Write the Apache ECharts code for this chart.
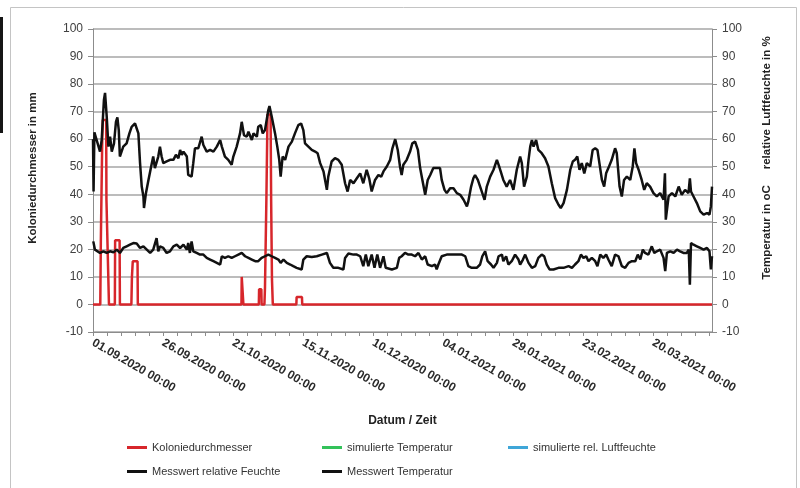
<!DOCTYPE html>
<html>
<head>
<meta charset="utf-8">
<script src="https://cdn.jsdelivr.net/npm/echarts@6/dist/echarts.min.js"></script>
<style>
  html, body { margin: 0; padding: 0; background: #fff; }
  #chart { width: 800px; height: 488px; }
</style>
</head>
<body>
<div id="chart"></div>
<script>
// x values are days since 01.09.2020 00:00
const dayMax = 221;
const labelStep = 25;

// Koloniedurchmesser in mm (left axis)
const colony = [
  [0, 0], [2.6, 0], [2.8, 23], [3.3, 60], [3.5, 67], [4.7, 67], [4.8, 38], [5.5, 38], [5.7, 0],
  [7.8, 0], [7.9, 23.3], [9.5, 23.3], [9.6, 0],
  [13.7, 0], [13.9, 10], [14.2, 15.7], [15.9, 15.7], [16.0, 0],
  [53.0, 0], [53.1, 10], [53.6, 10], [53.7, 0],
  [59.2, 0], [59.3, 5.5], [60.1, 5.5], [60.2, 0],
  [61.2, 0], [61.4, 6], [61.9, 38], [62.3, 69], [63.4, 69], [63.6, 38], [63.9, 9], [64.2, 0],
  [72.6, 0], [72.7, 2.7], [74.6, 2.7], [74.7, 0],
  [221, 0]
];

// Messwert relative Feuchte in % (right axis)
const humidity = [
  [0, 60], [0.2, 41], [0.5, 62.5], [1.3, 59.7], [2.5, 55.5], [3.1, 59.7], [3.9, 74.2], [4.3, 76.8],
  [4.9, 68.2], [5.5, 57.3], [6.1, 60.9], [6.7, 55.5], [7.5, 58.5], [8.2, 66.3], [8.7, 67.9], [9.2, 63.3],
  [9.6, 53.7], [10.2, 53.1], [10.8, 57.3], [12.0, 58.5], [13.0, 62.1], [13.8, 64.5], [15.0, 65.7],
  [15.6, 65.7], [16.2, 62.1], [16.8, 51.3], [17.4, 42.8], [18.0, 39.2], [18.2, 35.0], [18.9, 40.4],
  [19.8, 45.2], [21.0, 51.3], [21.5, 53.7], [22.1, 49.5], [23.3, 53.7], [23.9, 57.3], [24.5, 53.7],
  [25.1, 51.3], [26.3, 51.9], [27.5, 52.5], [28.7, 52.5], [29.6, 54.3], [30.5, 53.1], [31.1, 56.1],
  [31.7, 54.3], [32.3, 55.5], [33.5, 53.7], [34.0, 47.0], [34.6, 46.4], [35.2, 46.4], [35.8, 51.3],
  [36.4, 56.7], [37.6, 56.7], [38.8, 60.9], [39.4, 57.9], [40.6, 55.5], [41.8, 56.1], [43.0, 55.5],
  [44.2, 57.3], [45.4, 59.7], [46.0, 57.3], [47.1, 53.7], [48.3, 52.5], [49.5, 50.7], [50.1, 53.7],
  [51.3, 57.3], [52.5, 62.1], [53.1, 66.3], [53.9, 61.5], [54.9, 60.9], [55.5, 62.7], [56.7, 59.7],
  [57.3, 62.1], [58.5, 60.9], [59.0, 64.5], [59.9, 65.1], [60.6, 62.1], [61.4, 63.3], [62.6, 70.6],
  [63.0, 72.0], [63.8, 68.2], [65.0, 62.1], [65.8, 57.3], [66.5, 52.5], [67.0, 46.4], [67.7, 53.7],
  [68.6, 52.5], [69.8, 57.3], [71.0, 59.1], [72.1, 62.1], [73.3, 65.1], [74.3, 65.7], [75.1, 63.3],
  [75.7, 58.5], [76.9, 57.3], [78.1, 56.1], [79.3, 55.5], [80.2, 54.9], [81.1, 51.3], [82.3, 48.3],
  [83.5, 41.6], [84.0, 46.4], [85.2, 51.9], [86.4, 53.1], [87.6, 52.5], [88.8, 50.7], [90.0, 44.0],
  [90.9, 41.0], [91.8, 45.2], [93.0, 44.0], [94.2, 45.8], [95.4, 47.6], [96.5, 44.0], [97.7, 48.9],
  [98.6, 45.8], [99.5, 41.0], [100.7, 45.2], [101.9, 47.0], [102.9, 46.4], [103.7, 48.3], [104.9, 50.1],
  [106.1, 52.5], [106.9, 56.7], [107.9, 60.0], [108.8, 56.1], [109.6, 50.1], [110.2, 47.0], [110.8, 50.7],
  [112.0, 52.5], [113.2, 55.5], [114.0, 58.5], [115.0, 59.1], [116.0, 56.1], [116.8, 49.5], [117.6, 45.2],
  [118.6, 39.8], [119.5, 45.2], [120.4, 47.0], [121.5, 49.5], [122.7, 49.5], [123.9, 49.5], [124.5, 45.2],
  [125.5, 41.6], [126.3, 40.4], [127.5, 42.2], [128.7, 42.2], [129.9, 40.4], [131.1, 39.8], [132.3, 38.0],
  [133.5, 35.6], [134.0, 37.4], [135.0, 42.8], [135.8, 45.8], [136.4, 47.0], [137.4, 45.2], [138.6, 41.6],
  [139.8, 38.0], [140.6, 42.8], [141.8, 46.4], [143.0, 48.9], [144.2, 52.5], [145.0, 50.1], [146.5, 45.2],
  [147.7, 42.8], [148.9, 45.2], [150.1, 41.6], [151.3, 48.9], [152.5, 53.7], [153.1, 51.3], [153.9, 42.8],
  [154.9, 46.4], [155.5, 52.5], [156.1, 57.3], [156.7, 59.7], [157.3, 57.3], [158.2, 59.7], [159.0, 56.1],
  [160.2, 54.9], [161.4, 53.1], [162.6, 50.1], [163.8, 44.0], [165.0, 38.6], [166.2, 36.2], [167.0, 35.0],
  [168.0, 36.8], [169.2, 41.6], [170.4, 48.9], [171.3, 51.9], [172.1, 52.5], [172.9, 53.7], [173.7, 48.9],
  [174.5, 51.3], [175.4, 47.6], [176.3, 51.3], [177.5, 50.1], [178.4, 56.1], [179.3, 56.7], [180.1, 56.1],
  [180.8, 51.3], [181.7, 45.2], [182.5, 42.8], [183.2, 47.6], [184.0, 49.5], [185.2, 52.5], [186.4, 56.7],
  [187.0, 54.9], [188.0, 42.8], [188.8, 39.2], [189.6, 45.2], [190.6, 46.4], [191.8, 45.2], [192.7, 50.1],
  [193.3, 56.7], [193.9, 51.3], [194.8, 48.9], [195.9, 45.2], [196.8, 41.6], [197.7, 44.0], [198.9, 42.8],
  [200.1, 40.4], [201.3, 39.2], [202.5, 40.4], [203.7, 38.0], [204.2, 47.6], [204.5, 30.8], [205.5, 39.2],
  [206.7, 40.4], [207.9, 39.2], [209.1, 42.8], [210.2, 39.8], [211.4, 41.6], [212.6, 40.4], [213.1, 45.8],
  [213.5, 41.0], [214.4, 39.2], [215.6, 36.8], [216.8, 33.8], [218.0, 32.6], [219.2, 33.2], [220.1, 32.6],
  [220.6, 35.6], [221.0, 42.8]
];

// Messwert Temperatur in oC (right axis)
const temperature = [
  [0.1, 22.9], [0.7, 19.9], [1.3, 19.3], [2.5, 18.7], [3.7, 19.3], [4.9, 18.7], [6.1, 19.3], [7.3, 18.9],
  [8.5, 19.9], [9.6, 18.7], [10.8, 20.5], [12.0, 21.1], [13.2, 21.7], [14.4, 22.3], [15.6, 22.1],
  [16.8, 20.5], [18.0, 21.1], [19.2, 19.9], [20.4, 18.7], [21.5, 19.9], [22.7, 24.1], [23.3, 19.3],
  [23.9, 21.1], [25.1, 20.5], [26.3, 18.7], [27.5, 19.3], [28.7, 21.1], [29.9, 21.7], [31.1, 20.5],
  [32.3, 21.7], [33.5, 19.9], [34.0, 22.3], [34.6, 18.7], [35.2, 22.9], [35.8, 19.3], [37.0, 18.7],
  [38.2, 18.1], [39.4, 18.1], [40.6, 16.9], [41.8, 16.3], [43.0, 15.7], [44.2, 15.1], [45.4, 14.5],
  [46.0, 17.5], [47.1, 16.9], [48.3, 17.5], [49.5, 16.9], [50.7, 17.5], [51.9, 18.1], [53.1, 18.7],
  [54.3, 17.5], [55.5, 16.9], [56.7, 16.3], [57.9, 15.7], [59.0, 15.7], [60.2, 16.9], [61.4, 17.5],
  [62.6, 18.1], [63.8, 17.5], [65.0, 16.9], [66.2, 16.3], [67.0, 15.1], [68.0, 16.3], [69.2, 15.1],
  [70.4, 14.5], [71.5, 13.9], [72.7, 13.3], [73.3, 12.7], [74.5, 12.7], [75.1, 16.3], [76.3, 17.5],
  [78.1, 17.2], [79.9, 17.5], [81.7, 18.1], [83.5, 18.7], [84.6, 15.1], [85.8, 13.3], [87.6, 13.3],
  [89.4, 12.7], [90.0, 16.9], [91.2, 18.5], [93.0, 18.1], [94.2, 18.1], [95.4, 17.5], [96.5, 13.9],
  [97.4, 18.1], [98.3, 13.9], [99.5, 18.1], [100.5, 13.3], [101.5, 18.1], [102.5, 13.3], [103.7, 17.5],
  [104.5, 13.3], [106.7, 12.7], [108.5, 13.3], [109.3, 16.9], [110.2, 17.5], [111.4, 18.7], [112.6, 18.1],
  [113.8, 18.1], [115.0, 17.5], [116.2, 18.7], [117.4, 16.3], [118.6, 17.5], [119.5, 14.5], [121.0, 13.9],
  [122.1, 14.5], [122.7, 12.7], [123.3, 14.5], [124.5, 17.5], [126.3, 18.1], [128.1, 18.1], [130.5, 18.1],
  [131.7, 18.1], [132.9, 17.5], [134.0, 13.9], [135.2, 13.3], [137.0, 13.3], [138.2, 14.5], [139.0, 17.5],
  [140.0, 19.3], [140.9, 15.7], [142.1, 14.5], [143.0, 13.3], [144.2, 15.1], [144.8, 17.5], [146.0, 18.1],
  [146.5, 15.7], [147.5, 17.5], [148.3, 14.5], [149.5, 15.7], [150.7, 18.1], [151.9, 16.3], [152.5, 14.5],
  [153.5, 16.3], [154.3, 18.1], [155.5, 15.1], [156.7, 13.3], [157.9, 13.9], [159.0, 16.9], [160.2, 18.1],
  [161.1, 17.5], [162.0, 14.5], [163.0, 12.7], [164.4, 12.7], [166.2, 13.3], [168.0, 13.3], [169.8, 13.9],
  [171.0, 13.3], [172.1, 14.5], [173.3, 15.7], [174.2, 18.1], [175.1, 16.9], [176.1, 17.5], [176.9, 15.7],
  [178.1, 16.9], [179.3, 15.7], [180.1, 13.9], [181.1, 18.1], [182.2, 16.9], [183.2, 18.1], [184.0, 16.3],
  [185.2, 13.9], [186.4, 18.1], [187.6, 17.5], [188.8, 13.9], [190.0, 13.3], [191.2, 15.1], [192.4, 15.7],
  [193.6, 15.7], [194.5, 18.1], [195.4, 16.3], [196.3, 19.9], [197.1, 18.7], [198.3, 18.1], [199.5, 21.1],
  [200.4, 18.7], [201.3, 19.3], [202.5, 19.9], [203.7, 16.9], [204.3, 12.1], [204.9, 18.7], [206.1, 19.3],
  [207.3, 18.7], [208.5, 19.9], [209.6, 19.3], [210.8, 18.7], [212.0, 18.7], [212.7, 19.9], [213.1, 7.2],
  [213.5, 22.3], [214.4, 21.7], [215.6, 21.1], [216.8, 20.5], [218.0, 19.9], [219.2, 20.5], [220.1, 19.3],
  [220.6, 12.7], [221.0, 17.5]
];

// simulated series are listed in the legend but carry no visible data
const simTemperature = [];
const simHumidity = [];

function dayLabel(v) {
  const d = new Date(2020, 8, 1 + v);
  const p = n => String(n).padStart(2, '0');
  return p(d.getDate()) + '.' + p(d.getMonth() + 1) + '.' + d.getFullYear() + ' 00:00';
}

const font = 'Liberation Sans';
const legendText = { fontFamily: font, fontSize: 11, color: '#333' };

function legendAt(name, left, top) {
  return {
    data: [{ name: name, icon: 'rect' }],
    left: left, top: top,
    itemWidth: 20, itemHeight: 3, itemGap: 0,
    textStyle: legendText,
    selectedMode: false
  };
}

var chartDom = document.getElementById('chart');
var myChart = echarts.init(chartDom);
var option = {
  animation: false,
  backgroundColor: '#fff',
  grid: { left: 93, right: 88, top: 29, bottom: 156 },
  xAxis: {
    type: 'value',
    min: 0,
    max: dayMax,
    interval: 5,
    name: 'Datum / Zeit',
    nameLocation: 'middle',
    nameGap: 83,
    nameTextStyle: { fontFamily: font, fontWeight: 'bold', fontSize: 12, color: '#222' },
    axisLine: { onZero: false, lineStyle: { color: '#8c8c8c', width: 1 } },
    axisTick: { show: true, length: 4, lineStyle: { color: '#8c8c8c' } },
    splitLine: { show: false },
    axisLabel: {
      rotate: -30,
      margin: 10,
      showMaxLabel: false,
      fontFamily: font,
      fontSize: 12,
      fontWeight: 'bold',
      color: '#2a2a2a',
      formatter: v => (v % labelStep === 0 ? dayLabel(v) : '')
    }
  },
  yAxis: [
    {
      type: 'value',
      min: -10,
      max: 100,
      interval: 10,
      axisLine: { show: true, lineStyle: { color: '#8c8c8c' } },
      axisTick: { show: true, length: 5, lineStyle: { color: '#8c8c8c' } },
      axisLabel: { margin: 10, fontFamily: font, fontSize: 12, color: '#404040' },
      splitLine: { lineStyle: { color: '#a6a6a6', width: 1.5 } }
    },
    {
      type: 'value',
      min: -10,
      max: 100,
      interval: 10,
      position: 'right',
      axisLine: { show: true, lineStyle: { color: '#8c8c8c' } },
      axisTick: { show: true, length: 5, lineStyle: { color: '#8c8c8c' } },
      axisLabel: { margin: 10, fontFamily: font, fontSize: 12, color: '#404040' },
      splitLine: { show: false }
    }
  ],
  legend: [
    legendAt('Koloniedurchmesser', 122, 437),
    legendAt('simulierte Temperatur', 317, 437),
    legendAt('simulierte rel. Luftfeuchte', 503, 437),
    legendAt('Messwert relative Feuchte', 122, 461),
    legendAt('Messwert Temperatur', 317, 461)
  ],
  graphic: [
    { type: 'rect', shape: { x: 10.5, y: 7.5, width: 786, height: 500 }, style: { fill: 'none', stroke: '#c4c4c4', lineWidth: 1 } },
    { type: 'rect', shape: { x: 0, y: 17, width: 3, height: 116 }, style: { fill: '#151515' } },
    {
      type: 'text', x: 33, y: 168, rotation: Math.PI / 2,
      style: { text: 'Koloniedurchmesser in mm', textAlign: 'center', textVerticalAlign: 'middle',
        fontFamily: font, fontWeight: 'bold', fontSize: 11.5, fill: '#222' }
    },
    {
      type: 'text', x: 767, y: 158, rotation: Math.PI / 2,
      style: { text: 'Temperatur in oC     relative Luftfeuchte in %', textAlign: 'center', textVerticalAlign: 'middle',
        fontFamily: font, fontWeight: 'bold', fontSize: 11.5, fill: '#222' }
    }
  ],
  series: [
    {
      name: 'Koloniedurchmesser', type: 'line', yAxisIndex: 0, data: colony,
      symbol: 'none', color: '#d7262b', lineStyle: { width: 2.5, color: '#d7262b' }
    },
    {
      name: 'simulierte Temperatur', type: 'line', yAxisIndex: 1, data: simTemperature,
      symbol: 'none', color: '#33c25a', lineStyle: { width: 2.5 }
    },
    {
      name: 'simulierte rel. Luftfeuchte', type: 'line', yAxisIndex: 1, data: simHumidity,
      symbol: 'none', color: '#3fa6d8', lineStyle: { width: 2.5 }
    },
    {
      name: 'Messwert relative Feuchte', type: 'line', yAxisIndex: 1, data: humidity,
      symbol: 'none', color: '#111', lineStyle: { width: 2.5, color: '#111' }
    },
    {
      name: 'Messwert Temperatur', type: 'line', yAxisIndex: 1, data: temperature,
      symbol: 'none', color: '#111', lineStyle: { width: 2.5, color: '#111' }
    }
  ]
};
option && myChart.setOption(option);
</script>
</body>
</html>
